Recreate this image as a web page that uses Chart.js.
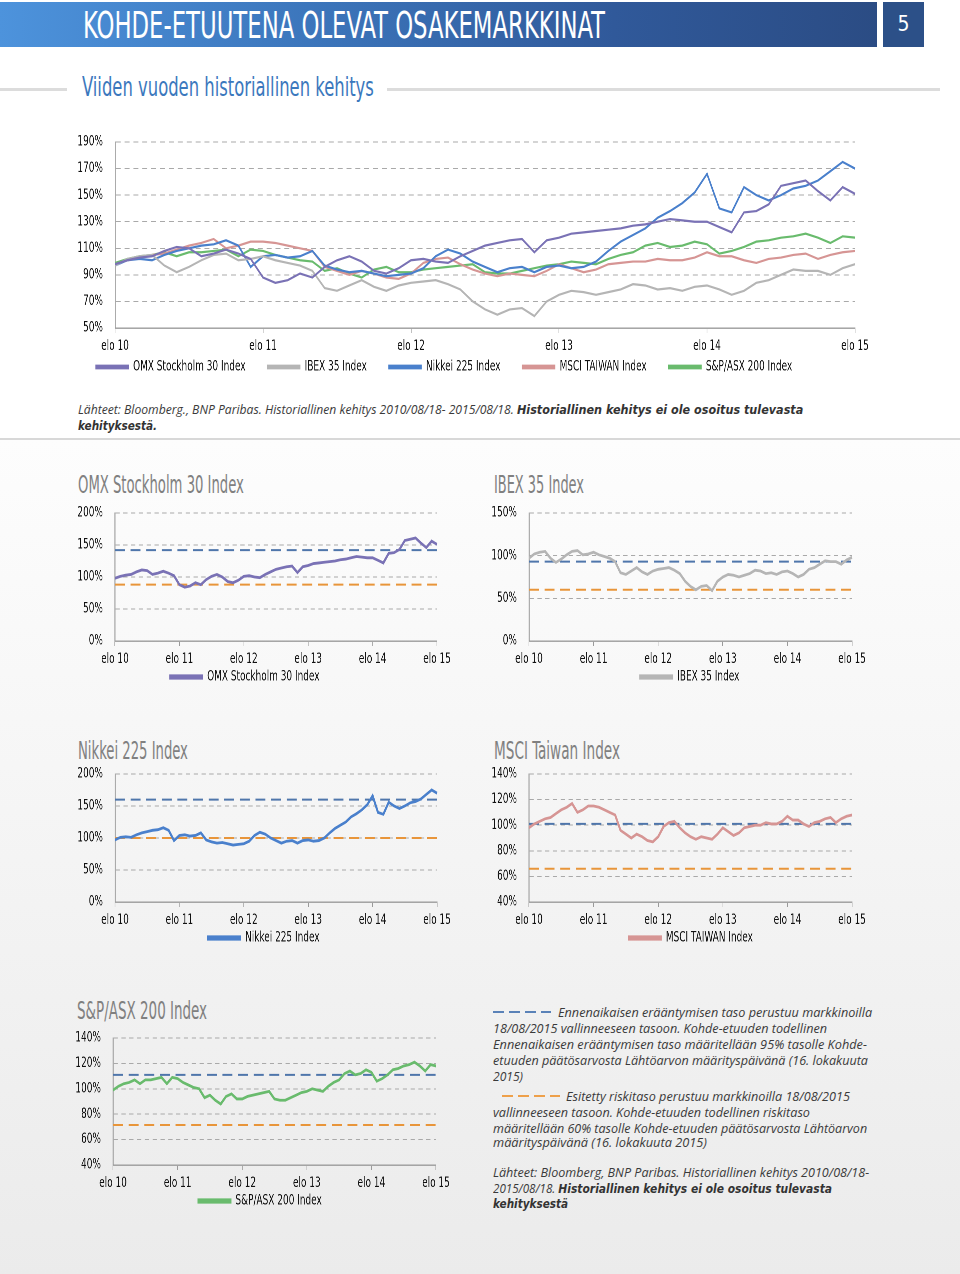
<!DOCTYPE html>
<html>
<head>
<meta charset="utf-8">
<script src="https://cdn.jsdelivr.net/npm/chart.js@4.4.0/dist/chart.umd.min.js"></script>
<style>
  body { margin: 0; width: 960px; height: 1274px; position: relative; overflow: hidden; background: #fff;
         font-family: 'DejaVu Sans Condensed', sans-serif; }
  .abs { position: absolute; }
  .txt { position: absolute; white-space: nowrap; transform-origin: 0 50%; }
  #lower { left: 0; top: 438px; width: 960px; height: 836px; background: linear-gradient(#fdfdfd, #ebebeb); border-top: 2px solid #d8d8d8; }
  #bar { left: 0; top: 2px; width: 877px; height: 45px; background: linear-gradient(to right, #4d93dc 0%, #3c76bc 35%, #30599a 70%, #2b4c84 100%); }
  #page { left: 883px; top: 2px; width: 41px; height: 45px; background: #2c5088; color: #fff; font-size: 21px; text-align: center; line-height: 45px; }
  .rule { background: #dcdcdc; height: 3px; top: 88px; }
  .ctitle { font-size: 24px; color: #808080; line-height: 28px; }
  .note { font-family: 'Open Sans', sans-serif; font-style: italic; font-size: 13px; color: #3a3a3a; line-height: 16px; }
  .note b { font-family: 'DejaVu Sans', sans-serif; font-weight: bold; font-style: italic; font-size: 12px; color: #333; }
  .dash { position: absolute; height: 2px; }
  canvas { position: absolute; }
</style>
</head>
<body>
<div id="lower" class="abs"></div>
<div id="bar" class="abs"></div>
<div id="page" class="abs">5</div>
<div class="txt" data-w="522" style="left:83px; top:3px; font-size:38px; line-height:44px; color:#fff;">KOHDE-ETUUTENA OLEVAT OSAKEMARKKINAT</div>
<div class="abs rule" style="left:0; width:67px;"></div>
<div class="abs rule" style="left:387px; width:553px;"></div>
<div class="txt" data-w="292" style="left:82px; top:72px; font-size:26px; line-height:30px; color:#3b78bd;">Viiden vuoden historiallinen kehitys</div>

<div class="txt note" data-w="725" style="left:78px; top:401px;">Lähteet: Bloomberg., BNP Paribas. Historiallinen kehitys 2010/08/18- 2015/08/18. <b>Historiallinen kehitys ei ole osoitus tulevasta</b></div>
<div class="txt note" data-w="79" style="left:78px; top:417px;"><b>kehityksestä.</b></div>

<div class="txt ctitle" data-w="166" style="left:78px; top:471px;">OMX Stockholm 30 Index</div>
<div class="txt ctitle" data-w="90" style="left:494px; top:471px;">IBEX 35 Index</div>
<div class="txt ctitle" data-w="110" style="left:78px; top:737px;">Nikkei 225 Index</div>
<div class="txt ctitle" data-w="126" style="left:494px; top:737px;">MSCI Taiwan Index</div>
<div class="txt ctitle" data-w="130" style="left:77px; top:997px;">S&amp;P/ASX 200 Index</div>

<div class="dash" style="left:493px; top:1011px; width:58px; background:repeating-linear-gradient(to right,#5a82b8 0 11px,transparent 11px 16px);"></div>
<div class="txt note" data-w="314" style="left:558px; top:1004px;">Ennenaikaisen erääntymisen taso perustuu markkinoilla</div>
<div class="txt note" data-w="334" style="left:493px; top:1020px;">18/08/2015 vallinneeseen tasoon. Kohde-etuuden todellinen</div>
<div class="txt note" data-w="374" style="left:493px; top:1036px;">Ennenaikaisen erääntymisen taso määritellään 95% tasolle Kohde-</div>
<div class="txt note" data-w="375" style="left:493px; top:1052px;">etuuden päätösarvosta Lähtöarvon määrityspäivänä (16. lokakuuta</div>
<div class="txt note" data-w="30" style="left:493px; top:1068px;">2015)</div>

<div class="dash" style="left:502px; top:1095px; width:58px; background:repeating-linear-gradient(to right,#eea04a 0 11px,transparent 11px 16px);"></div>
<div class="txt note" data-w="284" style="left:566px; top:1088px;">Esitetty riskitaso perustuu markkinoilla 18/08/2015</div>
<div class="txt note" data-w="317" style="left:493px; top:1104px;">vallinneeseen tasoon. Kohde-etuuden todellinen riskitaso</div>
<div class="txt note" data-w="374" style="left:493px; top:1120px;">määritellään 60% tasolle Kohde-etuuden päätösarvosta Lähtöarvon</div>
<div class="txt note" data-w="214" style="left:493px; top:1134px;">määrityspäivänä (16. lokakuuta 2015)</div>

<div class="txt note" data-w="376" style="left:493px; top:1164px;">Lähteet: Bloomberg, BNP Paribas. Historiallinen kehitys 2010/08/18-</div>
<div class="txt note" data-w="339" style="left:493px; top:1180px;">2015/08/18. <b>Historiallinen kehitys ei ole osoitus tulevasta</b></div>
<div class="txt note" data-w="75" style="left:493px; top:1195px;"><b>kehityksestä</b></div>

<canvas id="mainChart"></canvas>
<canvas id="omxChart"></canvas>
<canvas id="ibexChart"></canvas>
<canvas id="nikkeiChart"></canvas>
<canvas id="taiwanChart"></canvas>
<canvas id="asxChart"></canvas>

<script>
// monthly closes, elo 10 (18/08/2010) = 100%
const months = [];
for (let i = 0; i <= 60; i++) {
  const d = new Date(2010, 7 + i, 15);
  months.push(d.getFullYear() + '-' + String(d.getMonth() + 1).padStart(2, '0'));
}
const yearTicks = ['elo 10', 'elo 11', 'elo 12', 'elo 13', 'elo 14', 'elo 15'];

const omxData = [98, 101, 103, 104, 108, 111, 110, 104, 106, 109, 106, 102,
  88, 84, 86, 91, 88, 96, 101, 104, 100, 93, 91, 95,
  101, 102, 100, 99, 104, 108, 112, 114, 116, 117, 107, 116,
  118, 121, 122, 123, 124, 125, 127, 128, 130, 132, 131, 130,
  130, 126, 122, 137, 138, 143, 157, 159, 161, 153, 146, 156,
  151];
const ibexData = [97, 102, 104, 105, 97, 92, 96, 101, 105, 106, 101, 102,
  104, 101, 99, 97, 93, 80, 78, 82, 86, 81, 78, 82,
  84, 85, 86, 83, 79, 70, 64, 60, 64, 65, 59, 70,
  75, 78, 77, 75, 77, 79, 83, 82, 79, 80, 78, 81,
  82, 79, 75, 78, 84, 86, 90, 94, 93, 93, 90, 95,
  98];
const nikkeiData = [97, 101, 102, 101, 105, 108, 110, 112, 113, 116, 112, 96,
  104, 105, 103, 104, 108, 97, 94, 92, 93, 91, 89, 90,
  91, 95, 104, 109, 106, 100, 96, 92, 95, 96, 92, 96,
  97, 95, 96, 100, 108, 115, 120, 125, 133, 138, 144, 152,
  166, 140, 137, 156, 150, 146, 150, 155, 157, 161, 168, 175,
  170];
const taiwanData = [98, 101, 103, 105, 106, 109, 112, 114, 117, 110, 112, 115,
  115, 114, 112, 110, 108, 96, 93, 90, 93, 91, 88, 87,
  91, 99, 102, 103, 98, 94, 91, 89, 91, 90, 89, 93,
  98, 95, 92, 94, 98, 99, 100, 100, 102, 101, 101, 103,
  107, 104, 104, 101, 99, 102, 103, 105, 106, 102, 105, 107,
  108];
const asxData = [99, 102, 104, 105, 107, 104, 107, 107, 108, 109, 104, 109,
  108, 105, 103, 101, 100, 93, 95, 91, 88, 94, 96, 92,
  92, 94, 95, 96, 97, 98, 92, 91, 91, 93, 95, 97,
  98, 100, 99, 98, 102, 105, 107, 112, 114, 111, 112, 115,
  113, 106, 108, 111, 115, 116, 118, 119, 121, 118, 114, 119,
  118];

// Ennenaikaisen erääntymisen taso (blue) and riskitaso (orange), per index
const earlyLevels = [142, 93, 160, 101, 111];
const riskLevels = [88, 60, 100, 66, 71.5];

const seriesNames = ['OMX Stockholm 30 Index', 'IBEX 35 Index', 'Nikkei 225 Index', 'MSCI TAIWAN Index', 'S&P/ASX 200 Index'];
const seriesColors = ['#7a72b5', '#b5b5b5', '#4a80cc', '#d69594', '#69bb6d'];
const seriesData = [omxData, ibexData, nikkeiData, taiwanData, asxData];

Chart.defaults.font.family = "'DejaVu Sans Condensed', sans-serif";
Chart.defaults.color = '#111';

// the canvases are drawn wider and squeezed by css, which gives the narrow lettering of the original
const squeeze = 0.71;

function legendItems(chart, gap) {
  const items = Chart.defaults.plugins.legend.labels.generateLabels(chart);
  return items.map((item, i) => {
    if (gap && i < items.length - 1) item.text += gap;
    return item;
  });
}

function buildChart(id, g, datasets, yAxis, fontSize, legendPad, gridDash, gap) {
  const canvas = document.getElementById(id);
  const left = g.plotLeft - g.axisW;
  const cssW = g.plotRight + g.padR - left;
  const w = Math.round(cssW / squeeze);
  const h = g.padT + g.plotH + g.xAxisH + fontSize + legendPad + 10;
  canvas.width = w;
  canvas.height = h;
  canvas.style.left = left + 'px';
  canvas.style.top = (g.plotTop - g.padT) + 'px';
  canvas.style.width = cssW + 'px';
  canvas.style.height = h + 'px';

  // put the legend under the same spot as in the original page
  const legendPlace = {
    id: 'legendPlace',
    afterLayout(chart) {
      const lg = chart.legend;
      const half = (lg.right - lg.left) / 2;
      const c = (g.legendCenter - left) / squeeze;
      lg.left = c - half;
      lg.right = c + half;
    }
  };

  return new Chart(canvas, {
    type: 'line',
    data: { labels: months, datasets },
    plugins: [legendPlace],
    options: {
      responsive: false,
      devicePixelRatio: 2,
      animation: false,
      events: [],
      layout: { padding: { top: g.padT, right: g.padR / squeeze, left: 0, bottom: 0 } },
      plugins: {
        tooltip: { enabled: false },
        legend: {
          position: 'bottom',
          labels: {
            boxWidth: 45, boxHeight: 2.5, padding: legendPad,
            font: { size: fontSize }, color: '#111',
            generateLabels: chart => legendItems(chart, gap),
            filter: item => !datasets[item.datasetIndex].isLevel
          }
        }
      },
      scales: {
        x: {
          grid: {
            display: true, drawOnChartArea: false, drawTicks: true, tickLength: 5,
            tickColor: ctx => ctx.index % 12 === 0 ? '#9a9a9a' : 'rgba(0,0,0,0)'
          },
          border: { color: '#9a9a9a', width: 1.4 },
          ticks: {
            autoSkip: false, maxRotation: 0, minRotation: 0, padding: g.xPad,
            font: { size: fontSize },
            callback: (v, i) => i % 12 === 0 ? yearTicks[i / 12] : ''
          },
          afterFit: s => { s.height = g.xAxisH; }
        },
        y: {
          min: yAxis.min, max: yAxis.max,
          ticks: { stepSize: yAxis.step, padding: 17, font: { size: fontSize }, callback: v => v + '%' },
          grid: { color: '#a9a9a9', drawTicks: false },
          border: { color: '#9a9a9a', width: 1.4, dash: gridDash },
          afterFit: s => { s.width = g.axisW / squeeze; }
        }
      }
    }
  });
}

function lineSet(i, width) {
  return {
    label: seriesNames[i], data: seriesData[i],
    borderColor: seriesColors[i], backgroundColor: seriesColors[i],
    borderWidth: width, pointRadius: 0, tension: 0
  };
}

function levelSet(level, color) {
  return {
    label: '', data: months.map(() => level), isLevel: true,
    borderColor: color, backgroundColor: color,
    borderWidth: 2, borderDash: [14, 8], pointRadius: 0
  };
}

// main chart with all five indices
buildChart('mainChart',
  { plotLeft: 115, plotRight: 855, plotTop: 142, plotH: 186, axisW: 109, padR: 26, padT: 26, xAxisH: 26, xPad: 5, legendCenter: 444 },
  [0, 1, 2, 3, 4].map(i => lineSet(i, 2.2)),
  { min: 50, max: 190, step: 20 }, 14, 6, [7, 5.5], '\u2003\u2003');

const smallAxes = [
  { min: 0, max: 200, step: 50 },
  { min: 0, max: 150, step: 50 },
  { min: 0, max: 200, step: 50 },
  { min: 40, max: 140, step: 20 },
  { min: 40, max: 140, step: 20 }
];
const smallGeom = [
  { plotLeft: 115, plotRight: 437, plotTop: 513, plotH: 128, axisW: 85, padR: 23, legendCenter: 245 },
  { plotLeft: 529, plotRight: 852, plotTop: 513, plotH: 128, axisW: 49, padR: 48, legendCenter: 690 },
  { plotLeft: 115, plotRight: 437, plotTop: 774, plotH: 128, axisW: 55, padR: 31, legendCenter: 264 },
  { plotLeft: 529, plotRight: 852, plotTop: 774, plotH: 128, axisW: 47, padR: 48, legendCenter: 691 },
  { plotLeft: 113, plotRight: 436, plotTop: 1038, plotH: 127, axisW: 53, padR: 24, legendCenter: 260 }
];
const smallIds = ['omxChart', 'ibexChart', 'nikkeiChart', 'taiwanChart', 'asxChart'];

smallIds.forEach((id, i) => {
  const g = Object.assign({ padT: 26, xAxisH: 26, xPad: 5 }, smallGeom[i]);
  buildChart(id, g,
    [lineSet(i, 2.8), levelSet(earlyLevels[i], '#4f76ab'), levelSet(riskLevels[i], '#e8953a')],
    smallAxes[i], 14, 3, [6, 5], '');
});

// squeeze the condensed headings and notes to the widths of the original layout
document.querySelectorAll('[data-w]').forEach(el => {
  const w = el.getBoundingClientRect().width;
  el.style.transform = 'scaleX(' + (el.dataset.w / w).toFixed(3) + ')';
});
</script>
</body>
</html>
